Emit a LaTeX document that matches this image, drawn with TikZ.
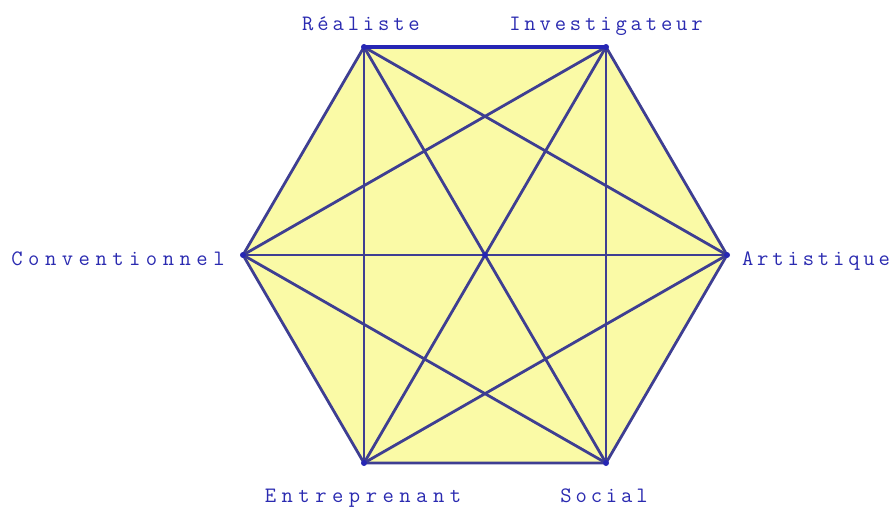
\documentclass[tikz,border=0pt]{standalone}
\usepackage{fontspec}
\usepackage{tikz}
\newfontfamily\typefont[LetterSpace=17.5]{Latin Modern Mono}
\newfontfamily\widetypefont[LetterSpace=25]{Latin Modern Mono}
\definecolor{hexfill}{HTML}{FAFAA6}
\definecolor{hexline}{HTML}{3E3E92}
\definecolor{hexblue}{HTML}{2626B4}
\definecolor{typeblue}{HTML}{2A2AB0}
\tikzset{
  type/.style={text=typeblue, font=\typefont\fontsize{22}{22}\selectfont, anchor=base, inner sep=0pt},
  widetype/.style={type, font=\widetypefont\fontsize{22}{22}\selectfont},
  edge/.style={hexline, line width=2.8pt, line cap=round},
}

\begin{document}
\begin{tikzpicture}[x=1pt,y=-1pt]
    \useasboundingbox (0,0) rectangle (890,506);
    \coordinate (O) at (485,255);
    \coordinate (R) at (364,47);
    \coordinate (I) at (606,47);
    \coordinate (A) at (727,255);
    \coordinate (S) at (606,463);
    \coordinate (E) at (364,463);
    \coordinate (C) at (243,255);
    \fill[hexfill] (R) -- (I) -- (A) -- (S) -- (E) -- (C) -- cycle;
    % diagonals
    \foreach \p/\q in {R/A,R/S,R/E,I/S,I/E,I/C,A/E,A/C,S/C}
      \draw[edge] (\p) -- (\q);
    % sides
    \draw[edge] (I) -- (A) -- (S) -- (E) -- (C) -- (R);
    \draw[hexblue, line width=3.6pt] (R) -- (I);
    \foreach \v in {R,I,A,S,E,C,O}
      \fill[hexblue] (\v) circle (3pt);
    \node[type] (real) at (361,30) {Réaliste};
    \node[type] (inv) at (606,30) {Investigateur};
    \node[type] (art) at (816,265) {Artistique};
    \node[widetype] (conv) at (118,265) {Conventionnel};
    \node[widetype] (ent) at (363,502) {Entreprenant};
    \node[type] (soc) at (604,502) {Social};
\end{tikzpicture}
\end{document}
